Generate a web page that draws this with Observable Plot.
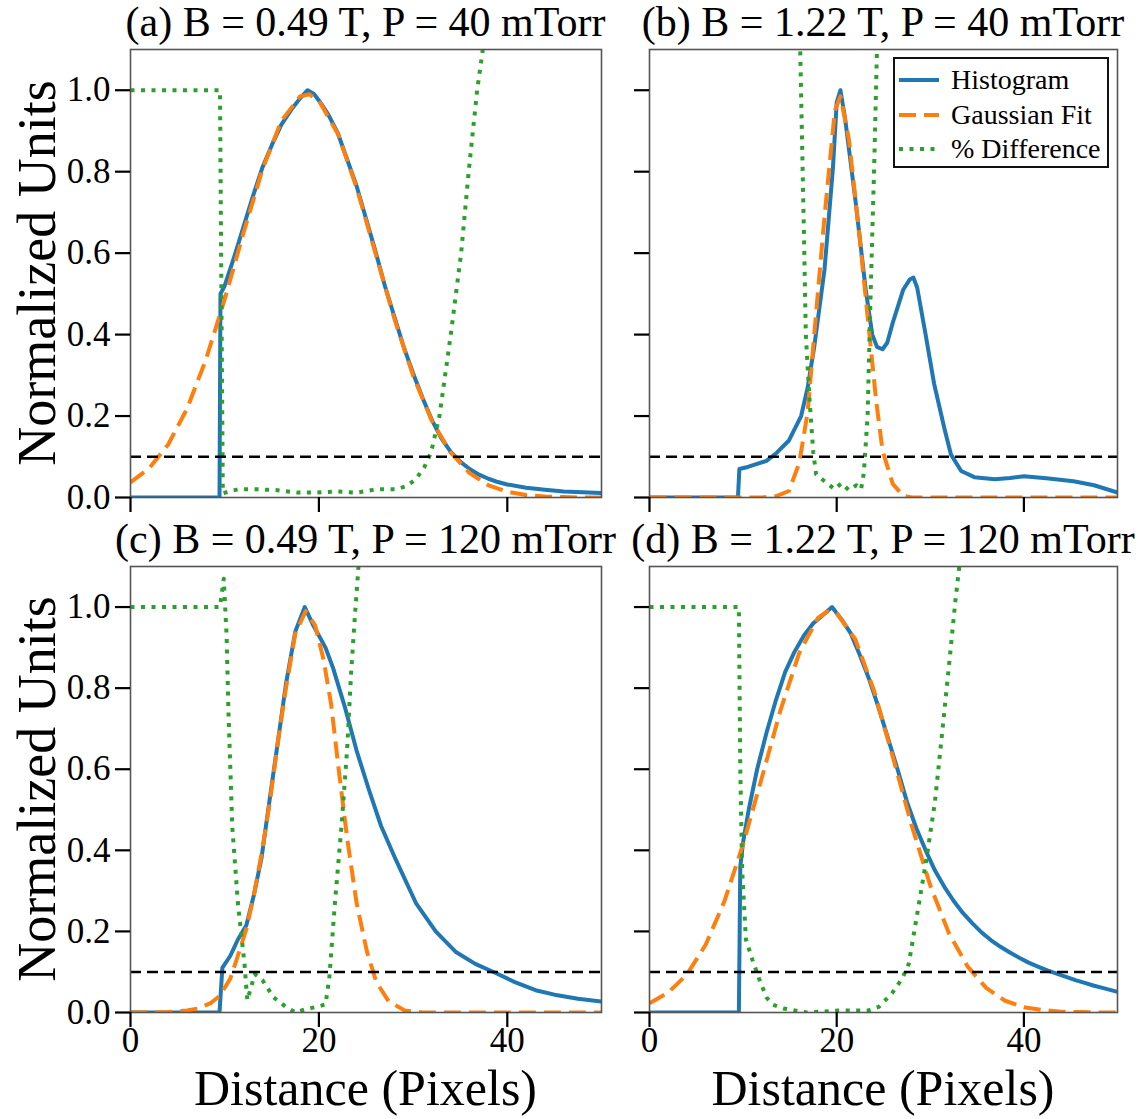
<!DOCTYPE html>
<html>
<head>
<meta charset="utf-8">
<script src="https://cdn.jsdelivr.net/npm/d3@7"></script>
<script src="https://cdn.jsdelivr.net/npm/@observablehq/plot@0.6"></script>
<style>
  body { margin: 0; background: #fff; }
  #fig { position: relative; width: 1138px; height: 1119px; overflow: hidden;
         font-family: "Liberation Serif", "Times New Roman", serif; color: #000; background: #fff; }
  .panel { position: absolute; }
  .title { position: absolute; font-size: 42px; line-height: 42px; text-align: center; white-space: nowrap; }
  .xlabel { position: absolute; font-size: 50px; line-height: 36px; height: 36px; text-align: center; white-space: nowrap; }
  .ylabel { position: absolute; font-size: 54px; line-height: 54px; text-align: center; white-space: nowrap;
            width: 500px; height: 54px; transform: translate(-50%, -50%) rotate(-90deg); }
  .legend { position: absolute; left: 893px; top: 57px; width: 212px; height: 107px;
            border: 2px solid #111; background: #fff; font-size: 28px; }
  .legend .row { position: absolute; left: 0; height: 34px; width: 100%; }
  .legend svg { position: absolute; left: 4px; top: 0; }
  .legend span { position: absolute; left: 56px; top: 0; line-height: 34px; white-space: nowrap; }
</style>
</head>
<body>
<div id="fig"></div>
<script>
// ---------- data ----------
const titles = [
  "(a) B = 0.49 T, P = 40 mTorr",
  "(b) B = 1.22 T, P = 40 mTorr",
  "(c) B = 0.49 T, P = 120 mTorr",
  "(d) B = 1.22 T, P = 120 mTorr"
];
const seriesNames = ["Histogram", "Gaussian Fit", "% Difference"];
const xTicks = [0, 20, 40];
const yTicks = [0, 0.2, 0.4, 0.6, 0.8, 1.0];
const xDomain = [0, 50];
const yDomain = [0, 1.1];
const threshold = 0.1;
const xLabel = "Distance (Pixels)";
const yLabel = "Normalized Units";

// Panel (a)
const histA = [[0,0],[9.45,0],[9.55,0.5],[10,0.52],[11,0.59],[12,0.665],[13,0.74],[14,0.81],[15,0.865],[16,0.915],[17,0.95],[18,0.98],[18.8,1.0],[19.5,0.99],[20,0.975],[21,0.94],[22,0.895],[23,0.83],[24,0.765],[25,0.685],[26,0.605],[27,0.52],[28,0.445],[29,0.37],[30,0.305],[31,0.245],[32,0.19],[33,0.145],[34,0.112],[35,0.088],[36,0.07],[37,0.056],[38,0.046],[39,0.038],[40,0.032],[42,0.024],[44,0.019],[46,0.015],[48,0.013],[50,0.011]];
const gaussA = [[0,0.037],[2,0.072],[4,0.13],[6,0.218],[8,0.338],[10,0.487],[12,0.65],[14,0.805],[16,0.924],[18,0.985],[19,0.99],[20,0.974],[22,0.894],[24,0.761],[26,0.6],[28,0.44],[30,0.299],[32,0.188],[34,0.11],[36,0.06],[38,0.03],[40,0.014],[42,0.006],[44,0.0025],[46,0.001],[48,0],[50,0]];
const diffA = [[0,1],[9.5,1],[9.65,0.5],[9.8,0.01],[10.5,0.015],[11.4,0.02],[13.5,0.02],[15.6,0.018],[17.7,0.012],[19.8,0.012],[21.9,0.015],[24,0.012],[26.1,0.02],[28.2,0.02],[29.3,0.028],[30.3,0.045],[31.2,0.075],[31.9,0.11],[32.8,0.2],[34,0.4],[35.1,0.6],[35.9,0.8],[36.8,1.0],[37.4,1.1],[37.9,1.2]];

// Panel (b)
const histB = [[0,0],[9.45,0],[9.6,0.07],[10.5,0.075],[12.5,0.09],[13.6,0.11],[14.9,0.14],[16.2,0.2],[16.9,0.27],[17.6,0.37],[18.7,0.56],[19.6,0.81],[20,0.97],[20.4,1.0],[20.9,0.93],[22,0.73],[23.1,0.51],[23.8,0.4],[24.3,0.37],[24.9,0.364],[25.4,0.38],[26,0.43],[27.1,0.51],[27.8,0.535],[28.2,0.54],[28.6,0.515],[29.5,0.4],[30.4,0.28],[31.5,0.17],[32.2,0.106],[33.3,0.065],[34.7,0.05],[36.9,0.045],[38.5,0.048],[40,0.052],[42.4,0.047],[45.3,0.04],[47.5,0.03],[50,0.012]];
const gaussB = [[0,0],[12,0],[13.6,0.004],[14.9,0.016],[16,0.085],[16.9,0.21],[17.6,0.4],[18.7,0.69],[19.8,0.95],[20.4,0.985],[21.3,0.88],[22.4,0.65],[23.5,0.4],[24.2,0.24],[24.9,0.115],[26,0.033],[27.1,0.004],[28,0],[50,0]];
const diffB = [[15.95,1.25],[16.1,1.1],[16.5,0.65],[16.7,0.4],[17.1,0.24],[17.5,0.11],[17.8,0.057],[18.7,0.04],[19.8,0.02],[20.5,0.035],[21.3,0.018],[22.1,0.03],[22.6,0.02],[22.9,0.06],[23.3,0.2],[23.6,0.48],[24.0,0.81],[24.2,1.0],[24.4,1.2]];

// Panel (c)
const histC = [[0,0],[9.45,0],[9.75,0.11],[10.6,0.14],[11.4,0.18],[12.3,0.215],[13.1,0.29],[13.9,0.38],[14.8,0.53],[15.6,0.66],[16.5,0.81],[17.5,0.94],[18.5,1.0],[19.4,0.955],[20.7,0.9],[21.5,0.85],[22.8,0.75],[24,0.646],[25.3,0.55],[26.6,0.46],[28.2,0.375],[30.3,0.27],[32.4,0.2],[34.5,0.15],[36.6,0.12],[38.7,0.098],[40.8,0.075],[43,0.055],[45,0.044],[47.5,0.034],[50,0.027]];
const gaussC = [[0,0],[4,0.001],[6,0.005],[7.2,0.01],[8.5,0.023],[9.5,0.042],[10.6,0.084],[11.4,0.14],[12.3,0.206],[13.1,0.29],[13.9,0.39],[14.8,0.52],[15.6,0.66],[16.5,0.8],[17.5,0.935],[18.6,0.99],[19.6,0.955],[20.5,0.87],[21.3,0.76],[22.1,0.6],[23,0.43],[24,0.27],[25.1,0.15],[26.1,0.075],[27.4,0.028],[29.1,0.005],[31,0],[50,0]];
const diffC = [[0,1],[9.5,1],[9.9,1.07],[10.2,0.93],[10.4,0.74],[10.8,0.46],[11.4,0.27],[12.1,0.12],[12.4,0.03],[13.2,0.095],[14,0.08],[15.2,0.037],[16.5,0.014],[17.5,0.0],[18.6,0.008],[19.8,0.014],[20.7,0.02],[21.1,0.084],[21.7,0.27],[22.4,0.46],[23,0.65],[23.4,0.83],[23.8,0.97],[24.2,1.1],[24.4,1.2]];

// Panel (d)
const histD = [[0,0],[9.55,0],[9.7,0.36],[10,0.42],[10.6,0.5],[11.5,0.6],[12.5,0.69],[13.5,0.77],[14.5,0.84],[15.5,0.89],[16.5,0.93],[17.5,0.96],[18.5,0.98],[19.5,1.0],[20.5,0.97],[21.5,0.935],[22.5,0.88],[23.5,0.82],[24.5,0.75],[25.5,0.675],[26.5,0.6],[27.5,0.52],[28.5,0.455],[29.5,0.4],[30.5,0.35],[31.5,0.31],[32.5,0.275],[33.5,0.245],[34.5,0.22],[35.5,0.197],[36.5,0.178],[37.5,0.162],[38.5,0.148],[39.5,0.135],[40.5,0.123],[41.5,0.113],[42.5,0.104],[43.5,0.096],[44.5,0.088],[45.5,0.08],[46.5,0.073],[47.5,0.066],[48.5,0.06],[49.5,0.054],[50,0.051]];
const gaussD = [[0,0.023],[2,0.049],[4,0.094],[6,0.167],[8,0.274],[10,0.415],[12,0.579],[14,0.746],[16,0.887],[18,0.973],[19,0.989],[20,0.985],[22,0.92],[24,0.793],[26,0.63],[28,0.462],[30,0.313],[32,0.195],[34,0.113],[36,0.06],[38,0.029],[40,0.013],[42,0.006],[44,0.002],[46,0.001],[48,0],[50,0]];
const diffD = [[0,1],[9.55,1],[9.7,0.6],[9.9,0.35],[10.3,0.18],[11,0.13],[11.7,0.084],[12.5,0.037],[13.2,0.019],[14.3,0.01],[16.8,0.0],[20.5,0.005],[23.4,0.005],[24.5,0.014],[25.9,0.047],[27,0.084],[27.7,0.12],[28.8,0.27],[29.6,0.38],[30.5,0.52],[31.4,0.72],[32.1,0.88],[32.7,1.02],[33.1,1.1],[33.3,1.2]];

// ---------- layout ----------
const colors = {hist: "#1f77b4", gauss: "#ff7f0e", diff: "#2ca02c"};
const dashGauss = "17,8";
const dashDiff = "4,6.5";
const panels = [
  {title: titles[0], hist: histA, gauss: gaussA, diff: diffA, left: 0,   top: 0,   w: 620, h: 520, mL: 130, mR: 19, mT: 49, mB: 23,  xLab: false, yLab: true},
  {title: titles[1], hist: histB, gauss: gaussB, diff: diffB, left: 620, top: 0,   w: 518, h: 520, mL: 29,  mR: 21, mT: 49, mB: 23,  xLab: false, yLab: false},
  {title: titles[2], hist: histC, gauss: gaussC, diff: diffC, left: 0,   top: 520, w: 620, h: 599, mL: 130, mR: 19, mT: 46, mB: 107, xLab: true,  yLab: true},
  {title: titles[3], hist: histD, gauss: gaussD, diff: diffD, left: 620, top: 520, w: 518, h: 599, mL: 29,  mR: 21, mT: 46, mB: 107, xLab: true,  yLab: false}
];

const fig = document.getElementById("fig");
const toPts = arr => arr.map(([x, y]) => ({x, y}));

for (const p of panels) {
  const chart = Plot.plot({
    width: p.w, height: p.h,
    marginLeft: p.mL, marginRight: p.mR, marginTop: p.mT, marginBottom: p.mB,
    style: {fontFamily: '"Liberation Serif", "Times New Roman", serif', fontSize: "35px", background: "transparent", overflow: "visible"},
    x: {domain: xDomain},
    y: {domain: yDomain},
    marks: [
      Plot.line(toPts(p.hist), {x: "x", y: "y", stroke: colors.hist, strokeWidth: 4, clip: true}),
      Plot.line(toPts(p.gauss), {x: "x", y: "y", stroke: colors.gauss, strokeWidth: 4, strokeDasharray: dashGauss, strokeLinecap: "butt", clip: true}),
      Plot.line(toPts(p.diff), {x: "x", y: "y", stroke: colors.diff, strokeWidth: 4, strokeDasharray: dashDiff, strokeLinecap: "butt", clip: true}),
      Plot.ruleY([threshold], {stroke: "#000", strokeWidth: 2.5, strokeDasharray: "11,6"}),
      Plot.frame({stroke: "#555", strokeWidth: 1.6}),
      Plot.axisX({ticks: xTicks, tickSize: 15, tickPadding: 0, strokeWidth: 2.2, stroke: "#000", label: null,
                  tickFormat: p.xLab ? (d => String(d)) : (() => "")}),
      Plot.axisY({ticks: yTicks, tickSize: 15, tickPadding: 5, strokeWidth: 2.2, stroke: "#000", label: null,
                  tickFormat: p.yLab ? d3.format(".1f") : (() => "")})
    ]
  });
  chart.classList.add("panel");
  chart.style.left = p.left + "px";
  chart.style.top = p.top + "px";
  fig.appendChild(chart);

  const plotLeft = p.left + p.mL, plotRight = p.left + p.w - p.mR;
  const plotTop = p.top + p.mT, plotBottom = p.top + p.h - p.mB;
  const cx = (plotLeft + plotRight) / 2;

  const t = document.createElement("div");
  t.className = "title";
  t.textContent = p.title;
  t.style.left = (cx - 300) + "px";
  t.style.width = "600px";
  t.style.top = (plotTop - 48) + "px";
  fig.appendChild(t);

  if (p.yLab) {
    const yl = document.createElement("div");
    yl.className = "ylabel";
    yl.textContent = yLabel;
    yl.style.left = "37px";
    yl.style.top = ((plotTop + plotBottom) / 2) + "px";
    fig.appendChild(yl);
  }
  if (p.xLab) {
    const xl = document.createElement("div");
    xl.className = "xlabel";
    xl.textContent = xLabel;
    xl.style.left = (cx - 300) + "px";
    xl.style.width = "600px";
    xl.style.top = (plotBottom + 58) + "px";
    fig.appendChild(xl);
  }
}

// ---------- legend (panel b) ----------
const legend = document.createElement("div");
legend.className = "legend";
const legendStyles = [
  {stroke: colors.hist, dash: null},
  {stroke: colors.gauss, dash: dashGauss},
  {stroke: colors.diff, dash: dashDiff}
];
seriesNames.forEach((name, i) => {
  const row = document.createElement("div");
  row.className = "row";
  row.style.top = (4 + i * 34.5) + "px";
  const s = legendStyles[i];
  row.innerHTML = `<svg width="44" height="34"><line x1="0" x2="40" y1="17" y2="17" stroke="${s.stroke}" stroke-width="4" ${s.dash ? `stroke-dasharray="${s.dash}" stroke-linecap="butt"` : ""}/></svg><span>${name}</span>`;
  legend.appendChild(row);
});
fig.appendChild(legend);
</script>
</body>
</html>
